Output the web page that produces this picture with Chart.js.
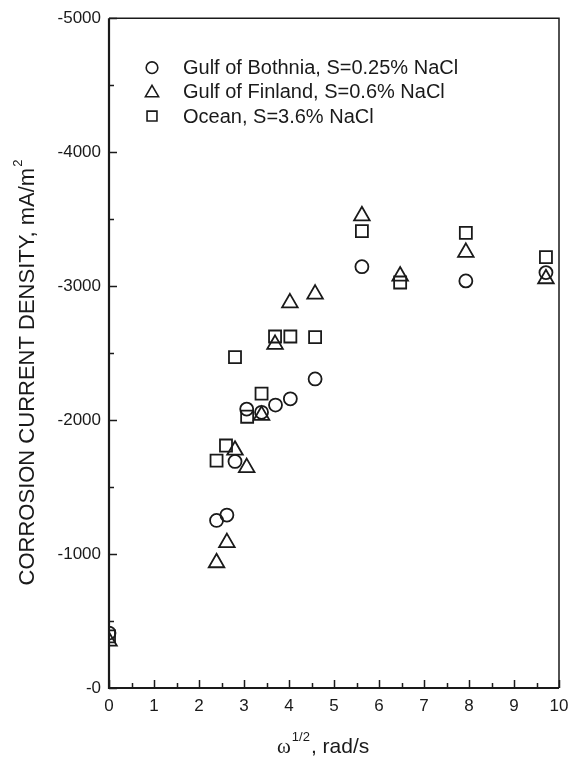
<!DOCTYPE html>
<html><head><meta charset="utf-8">
<script src="https://cdn.jsdelivr.net/npm/chart.js@4"></script>
<style>html,body{margin:0;padding:0;background:#fff}#wrap{width:577px;height:757px}</style>
</head><body><div id="wrap"><canvas id="c" width="577" height="757"></canvas></div>
<script>
const seriesLabels = ['Gulf of Bothnia, S=0.25% NaCl', 'Gulf of Finland, S=0.6% NaCl', 'Ocean, S=3.6% NaCl'];
const xBothnia = [0, 2.39, 2.62, 2.80, 3.06, 3.39, 3.70, 4.03, 4.58, 5.62, 7.93, 9.71];
const yBothnia = [-410, -1251, -1291, -1691, -2082, -2058, -2112, -2159, -2307, -3145, -3039, -3101];
const xFinland = [0, 2.39, 2.62, 2.80, 3.06, 3.39, 3.69, 4.02, 4.58, 5.62, 6.47, 7.93, 9.71];
const yFinland = [-350, -935, -1085, -1775, -1645, -2035, -2565, -2875, -2940, -3525, -3075, -3252, -3055];
const xOcean = [0, 2.39, 2.60, 2.80, 3.07, 3.39, 3.69, 4.03, 4.58, 5.62, 6.47, 7.93, 9.71];
const yOcean = [-385, -1697, -1810, -2470, -2025, -2198, -2624, -2624, -2619, -3410, -3027, -3398, -3217];
const xTicks = [0, 1, 2, 3, 4, 5, 6, 7, 8, 9, 10];
const yTicks = [0, -1000, -2000, -3000, -4000, -5000];
const yTitle = 'CORROSION CURRENT DENSITY, mA/m';
const xTitleParts = ['\u03c9', '1/2', ', rad/s'];

const INK = '#1a1a1a';
const SANS = '"Liberation Sans", Arial, Helvetica, sans-serif';
const pts = (xs, ys) => xs.map((x, i) => ({x: x, y: ys[i]}));
const styles = ['circle', 'triangle', 'rect'];
const radii = [6.5, 9, 8.5];

const overlay = {
  id: 'overlay',
  afterDraw(chart) {
    const ctx = chart.ctx, a = chart.chartArea;
    const xs = chart.scales.x, ys = chart.scales.y;
    ctx.save();
    ctx.strokeStyle = INK;
    // frame
    ctx.lineWidth = 1.5;
    ctx.beginPath();
    ctx.moveTo(a.left, a.top); ctx.lineTo(a.right, a.top); ctx.lineTo(a.right, a.bottom);
    ctx.stroke();
    ctx.lineWidth = 2.2;
    ctx.beginPath();
    ctx.moveTo(a.left, a.top); ctx.lineTo(a.left, a.bottom); ctx.lineTo(a.right, a.bottom);
    ctx.stroke();
    // inward ticks
    ctx.lineWidth = 1.5;
    ctx.beginPath();
    for (let v = xs.min; v <= xs.max + 1e-9; v += 0.5) {
      const p = Math.round(xs.getPixelForValue(v)) + 0.5;
      const len = Math.abs(v - Math.round(v)) < 1e-9 ? 8 : 5;
      ctx.moveTo(p, a.bottom); ctx.lineTo(p, a.bottom - len);
    }
    for (let v = ys.max; v >= ys.min - 1e-9; v -= 500) {
      const p = Math.round(ys.getPixelForValue(v)) + 0.5;
      const len = Math.abs(v % 1000) < 1e-9 ? 8 : 5;
      ctx.moveTo(a.left, p); ctx.lineTo(a.left + len, p);
    }
    ctx.stroke();
    // legend
    const lx = a.left + 43, ly0 = a.top + 49.5, dy = 24.2;
    const lr = [5.8, 7.6, 7];
    ctx.font = '20px ' + SANS;
    ctx.textBaseline = 'middle';
    ctx.textAlign = 'left';
    chart.data.datasets.forEach((d, i) => {
      const y = ly0 + i * dy;
      ctx.fillStyle = 'rgba(0,0,0,0)';
      ctx.strokeStyle = INK;
      ctx.lineWidth = 1.6;
      Chart.helpers.drawPoint(ctx, {pointStyle: styles[i], radius: lr[i], borderWidth: 1.6, rotation: 0}, lx, y + (i === 1 ? 1 : 0));
      ctx.fillStyle = INK;
      ctx.fillText(d.label, lx + 31, y + 1);
    });
    // y title
    ctx.save();
    ctx.translate(28, 373);
    ctx.rotate(-Math.PI / 2);
    ctx.font = '22px ' + SANS;
    ctx.fillStyle = INK;
    ctx.textAlign = 'left';
    ctx.textBaseline = 'middle';
    const w1 = ctx.measureText(yTitle).width;
    ctx.font = '13px ' + SANS;
    const w2 = ctx.measureText('2').width;
    const start = -(w1 + w2) / 2;
    ctx.font = '22px ' + SANS;
    ctx.fillText(yTitle, start, 0);
    ctx.font = '13px ' + SANS;
    ctx.fillText('2', start + w1 + 1, -10);
    ctx.restore();
    // x title
    ctx.fillStyle = INK;
    ctx.textBaseline = 'alphabetic';
    ctx.textAlign = 'left';
    const f0 = '21px "Liberation Serif", "Times New Roman", serif';
    const f1 = '13px ' + SANS;
    const f2 = '21px ' + SANS;
    ctx.font = f0; const a0 = ctx.measureText(xTitleParts[0]).width;
    ctx.font = f1; const a1 = ctx.measureText(xTitleParts[1]).width;
    let tx = 277;
    const base = 753;
    ctx.font = f0; ctx.fillText(xTitleParts[0], tx, base); tx += a0 + 1;
    ctx.font = f1; ctx.fillText(xTitleParts[1], tx, base - 12); tx += a1 + 1;
    ctx.font = f2; ctx.fillText(xTitleParts[2], tx, base);
    ctx.restore();
  }
};

new Chart(document.getElementById('c'), {
  type: 'scatter',
  data: {
    datasets: [
      {label: seriesLabels[0], data: pts(xBothnia, yBothnia)},
      {label: seriesLabels[1], data: pts(xFinland, yFinland)},
      {label: seriesLabels[2], data: pts(xOcean, yOcean)}
    ].map((d, i) => Object.assign(d, {
      pointStyle: styles[i], pointRadius: radii[i], pointHoverRadius: radii[i],
      borderColor: INK, backgroundColor: 'rgba(0,0,0,0)', pointBorderWidth: 1.8, showLine: false
    }))
  },
  options: {
    responsive: false, animation: false, devicePixelRatio: 1,
    layout: {padding: {top: 14, right: 18, left: 0, bottom: 0}},
    plugins: {legend: {display: false}, tooltip: {enabled: false}},
    scales: {
      x: {
        type: 'linear', min: 0, max: 10,
        afterFit: s => { s.height = 69; },
        afterBuildTicks: s => { s.ticks = xTicks.map(v => ({value: v})); },
        grid: {display: false, drawTicks: false}, border: {display: false},
        ticks: {color: INK, font: {family: SANS, size: 17}, padding: 8, maxRotation: 0}
      },
      y: {
        type: 'linear', min: -5000, max: 0, reverse: true,
        afterFit: s => { s.width = 109; },
        afterBuildTicks: s => { s.ticks = yTicks.map(v => ({value: v})); },
        grid: {display: false, drawTicks: false}, border: {display: false},
        ticks: {color: INK, font: {family: SANS, size: 17}, padding: 8,
          callback: v => (v === 0 ? '-0' : String(v))}
      }
    }
  },
  plugins: [overlay]
});
</script>
</body></html>
